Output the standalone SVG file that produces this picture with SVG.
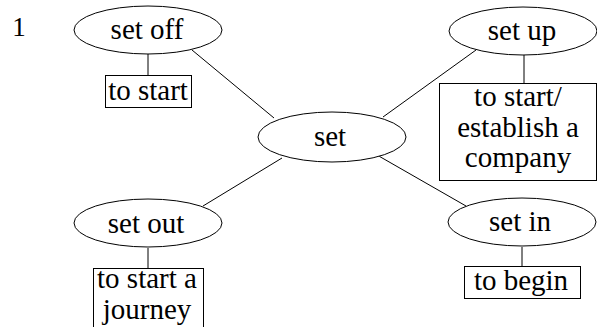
<svg xmlns="http://www.w3.org/2000/svg" width="597" height="327" viewBox="0 0 597 327">
<style>
text{font-family:"Liberation Serif","Times New Roman",serif;font-size:29px;fill:#000;text-anchor:middle}
.n ellipse,.n rect{fill:#fff;stroke:#000;stroke-width:1}
#edges line{stroke:#000;stroke-width:1}
</style>
<rect width="597" height="327" fill="#fff"/>
<text x="19" y="36" style="font-size:27px">1</text>
<g id="edges">
<line x1="192" y1="50" x2="274" y2="118"/>
<line x1="383" y1="117" x2="476" y2="50"/>
<line x1="377" y1="155" x2="466" y2="206"/>
<line x1="203" y1="206" x2="282" y2="158"/>
<line x1="148" y1="54" x2="148" y2="75"/>
<line x1="524" y1="55" x2="524" y2="83"/>
<line x1="522" y1="247" x2="522" y2="266"/>
<line x1="148" y1="248" x2="148" y2="268"/>
</g>
<g id="set" class="n"><ellipse cx="332" cy="137" rx="74" ry="25"/><text x="330" y="146">set</text></g>
<g id="setoff" class="n"><ellipse cx="148" cy="30" rx="74" ry="24"/><text x="147" y="39">set off</text></g>
<g id="setup" class="n"><ellipse cx="523" cy="31" rx="74" ry="24"/><text x="522" y="40">set up</text></g>
<g id="setout" class="n"><ellipse cx="148" cy="223" rx="74" ry="24"/><text x="146" y="233">set out</text></g>
<g id="setin" class="n"><ellipse cx="522" cy="222" rx="74" ry="24"/><text x="520" y="231">set in</text></g>
<g id="tostart" class="n"><rect x="105.5" y="75.5" width="86" height="32"/><text x="148" y="100">to start</text></g>
<g id="establish" class="n"><rect x="439.5" y="83.5" width="157" height="97"/><text x="518" y="106">to start/</text><text x="518" y="137">establish a</text><text x="518" y="167">company</text></g>
<g id="tobegin" class="n"><rect x="464.5" y="266.5" width="116" height="32"/><text x="521" y="290">to begin</text></g>
<g id="journey" class="n"><rect x="93.5" y="268.5" width="110" height="62"/><text x="147" y="288">to start a</text><text x="147" y="319">journey</text></g>
</svg>
